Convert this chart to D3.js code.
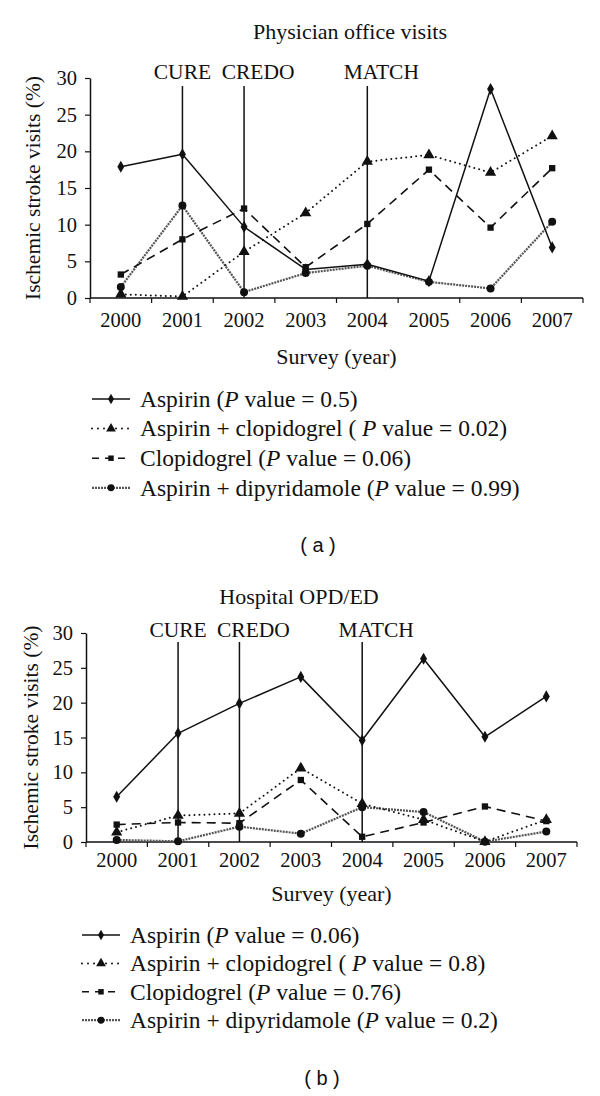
<!DOCTYPE html>
<html>
<head>
<meta charset="utf-8">
<script src="https://cdn.jsdelivr.net/npm/d3@7"></script>
<style>
  html, body { margin: 0; padding: 0; background: #fff; }
  svg { display: block; }
  text { font-family: "Liberation Serif", "Times New Roman", serif; fill: #111; }
</style>
</head>
<body>
<svg id="chart" width="600" height="1096"></svg>
<script>
// ---------- DATA ----------
const years = ["2000", "2001", "2002", "2003", "2004", "2005", "2006", "2007"];
const yTicks = [0, 5, 10, 15, 20, 25, 30];
const seriesNames = ["Aspirin", "Aspirin + clopidogrel", "Clopidogrel", "Aspirin + dipyridamole"];

// Panel (a): Physician office visits
const officeAspirin      = [17.9, 19.6, 9.7, 3.9, 4.6, 2.3, 28.5, 6.9];
const officeAspClop      = [0.5, 0.2, 6.3, 11.6, 18.6, 19.5, 17.1, 22.1];
const officeClopidogrel  = [3.2, 8.0, 12.2, 4.2, 10.1, 17.5, 9.6, 17.7];
const officeAspDip       = [1.5, 12.6, 0.8, 3.4, 4.4, 2.2, 1.3, 10.4];
const officePValues      = ["0.5", "0.02", "0.06", "0.99"];

// Panel (b): Hospital OPD/ED
const hospAspirin        = [6.5, 15.6, 19.9, 23.7, 14.6, 26.3, 15.1, 20.9];
const hospAspClop        = [1.4, 3.8, 4.1, 10.6, 5.5, 3.2, 0.05, 3.2];
const hospClopidogrel    = [2.5, 2.8, 2.7, 8.9, 0.75, 2.8, 5.1, 3.0];
const hospAspDip         = [0.3, 0.1, 2.2, 1.2, 5.0, 4.3, 0.05, 1.5];
const hospPValues        = ["0.06", "0.8", "0.76", "0.2"];

const trialNames = ["CURE", "CREDO", "MATCH"];
const trialYears = ["2001", "2002", "2004"];

// ---------- STYLES ----------
const styles = [
  { dash: null,      width: 1.5, color: "#111", cap: "butt",  symbol: d3.symbolDiamond,  size: 42 },
  { dash: "0,5",     width: 2.0, color: "#111", cap: "round", symbol: d3.symbolTriangle, size: 55 },
  { dash: "9,6",     width: 1.6, color: "#111", cap: "butt",  symbol: d3.symbolSquare,   size: 40 },
  { dash: "2,1",     width: 2.2, color: "#555", cap: "butt",  symbol: d3.symbolCircle,   size: 50 }
];
const trialLabelOffsets = [0, 14, 14];

const svg = d3.select("#chart");

function drawPanel(cfg) {
  const x = d3.scaleBand().domain(years).range([cfg.left, cfg.right]);
  const y = d3.scaleLinear().domain([0, 30]).range([cfg.bottom, cfg.top]);
  const g = svg.append("g");
  const cx = d => x(d) + x.bandwidth() / 2;

  // title
  g.append("text").attr("x", cfg.titleX).attr("y", cfg.titleY)
    .attr("text-anchor", "middle").attr("font-size", 22).text(cfg.title);

  // y axis
  const yAxis = g.append("g").attr("transform", `translate(${cfg.left},0)`)
    .call(d3.axisLeft(y).tickValues(yTicks).tickSize(5).tickPadding(8).tickSizeOuter(0));
  yAxis.select(".domain").attr("stroke", "#111").attr("stroke-width", 1.5);
  yAxis.selectAll(".tick line").attr("stroke", "#111").attr("stroke-width", 1.2);
  yAxis.selectAll(".tick text").attr("font-size", 20.5).attr("font-family", "Liberation Serif").attr("fill", "#111");

  // x axis: line with ticks at band boundaries
  const bx = g.append("g").attr("transform", `translate(0,${cfg.bottom})`);
  bx.append("line").attr("x1", cfg.left).attr("x2", cfg.right)
    .attr("stroke", "#111").attr("stroke-width", 1.5);
  const bounds = years.map(d => x(d)).concat([x(years[years.length - 1]) + x.bandwidth()]);
  bx.selectAll("line.tk").data(bounds).enter().append("line").attr("class", "tk")
    .attr("x1", d => d).attr("x2", d => d).attr("y1", 0).attr("y2", 5)
    .attr("stroke", "#111").attr("stroke-width", 1.2);
  bx.selectAll("text").data(years).enter().append("text")
    .attr("x", d => cx(d)).attr("y", cfg.xLabelDy)
    .attr("text-anchor", "middle").attr("font-size", 20.5).text(d => d);

  // axis titles
  g.append("text").attr("transform", `translate(${cfg.yTitleX},${(cfg.top + cfg.bottom) / 2}) rotate(-90)`)
    .attr("text-anchor", "middle").attr("dy", "0.35em").attr("font-size", 21.5)
    .text("Ischemic stroke visits (%)");
  g.append("text").attr("x", (cfg.left + cfg.right) / 2).attr("y", cfg.xTitleY)
    .attr("text-anchor", "middle").attr("font-size", 22).text("Survey (year)");

  // trial lines
  trialYears.forEach((ty, i) => {
    g.append("line").attr("x1", cx(ty)).attr("x2", cx(ty))
      .attr("y1", cfg.trialLineTop).attr("y2", cfg.bottom)
      .attr("stroke", "#111").attr("stroke-width", 1.5);
    g.append("text").attr("x", cx(ty) + trialLabelOffsets[i]).attr("y", cfg.trialLabelY)
      .attr("text-anchor", "middle").attr("font-size", 21.5).text(trialNames[i]);
  });

  // series
  const line = d3.line().x((d, i) => cx(years[i])).y(d => y(d));
  const order = [3, 2, 1, 0];
  order.forEach(si => {
    const vals = cfg.series[si];
    const st = styles[si];
    g.append("path").datum(vals).attr("d", line)
      .attr("fill", "none").attr("stroke", st.color).attr("stroke-width", st.width)
      .attr("stroke-dasharray", st.dash).attr("stroke-linecap", st.cap)
      .attr("stroke-linejoin", "round");
  });
  order.forEach(si => {
    const vals = cfg.series[si];
    const st = styles[si];
    g.selectAll(null).data(vals).enter().append("path")
      .attr("transform", (d, i) => `translate(${cx(years[i])},${y(d)})`)
      .attr("d", d3.symbol().type(st.symbol).size(st.size)())
      .attr("fill", "#111");
  });

  // legend
  const lg = g.append("g");
  seriesNames.forEach((name, i) => {
    const st = styles[i];
    const ly = cfg.legendY + i * cfg.legendStep;
    lg.append("line").attr("x1", cfg.legendX).attr("x2", cfg.legendX + 38)
      .attr("y1", ly).attr("y2", ly)
      .attr("stroke", st.color).attr("stroke-width", st.width)
      .attr("stroke-dasharray", i === 1 ? "0,6" : (i === 2 ? "7,6" : st.dash))
      .attr("stroke-linecap", st.cap);
    lg.append("path").attr("transform", `translate(${cfg.legendX + 19},${ly})`)
      .attr("d", d3.symbol().type(st.symbol).size(st.size * 0.75)()).attr("fill", "#111");
    const t = lg.append("text").attr("x", cfg.legendX + 48).attr("y", ly).attr("dy", "0.33em")
      .attr("font-size", 23.5);
    t.append("tspan").text(name + (i === 1 ? " ( " : " ("));
    t.append("tspan").attr("font-style", "italic").text("P");
    t.append("tspan").text(" value = " + cfg.pValues[i] + ")");
  });

  // panel label
  g.append("text").attr("x", cfg.panelX).attr("y", cfg.panelY).attr("dy", "0.35em")
    .attr("text-anchor", "middle").attr("font-size", 20)
    .style("font-family", "'Liberation Sans', Arial, sans-serif")
    .attr("xml:space", "preserve").text(cfg.panelLabel);
}

drawPanel({
  title: "Physician office visits", titleX: 350, titleY: 39,
  left: 90, right: 583, top: 78, bottom: 298,
  xLabelDy: 29, yTitleX: 32, xTitleY: 364,
  trialLineTop: 86, trialLabelY: 79,
  series: [officeAspirin, officeAspClop, officeClopidogrel, officeAspDip],
  pValues: officePValues,
  legendX: 92, legendY: 399, legendStep: 29.6,
  panelX: 318, panelY: 545, panelLabel: "( a )"
});

drawPanel({
  title: "Hospital OPD/ED", titleX: 299, titleY: 604,
  left: 86, right: 577, top: 633, bottom: 842,
  xLabelDy: 25, yTitleX: 30, xTitleY: 901,
  trialLineTop: 642, trialLabelY: 637,
  series: [hospAspirin, hospAspClop, hospClopidogrel, hospAspDip],
  pValues: hospPValues,
  legendX: 82, legendY: 935, legendStep: 28.4,
  panelX: 322, panelY: 1078, panelLabel: "( b )"
});
</script>
</body>
</html>
